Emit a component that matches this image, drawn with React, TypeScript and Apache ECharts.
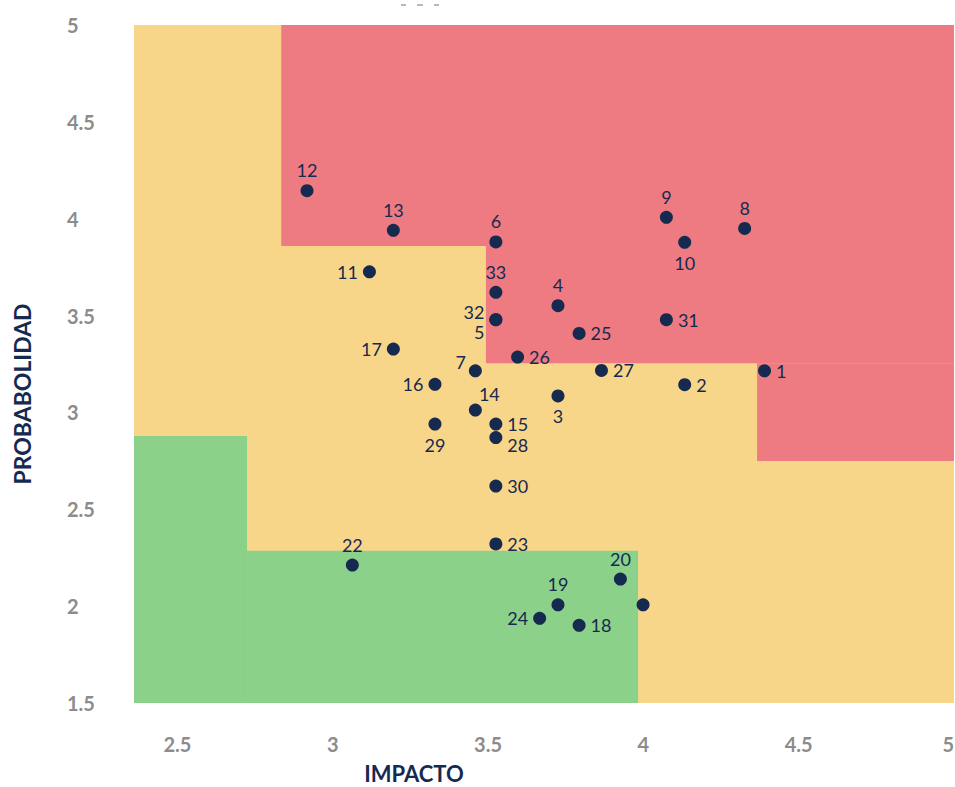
import React, { useEffect, useRef } from "react";
import * as echarts from "echarts";

// Risk points: id, impacto (x), probabilidad (y)
const ids = [
  "1", "2", "3", "4", "5", "6", "7", "8", "9", "10", "11", "12", "13", "14", "15", "16", "17",
  "18", "19", "20", "21", "22", "23", "24", "25", "26", "27", "28", "29", "30", "31", "32", "33",
];
const impacto = [
  4.39, 4.133, 3.725, 3.725, 3.525, 3.525, 3.459, 4.326, 4.074, 4.133, 3.118, 2.917, 3.195, 3.459,
  3.525, 3.329, 3.195, 3.793, 3.725, 3.926, 3.999, 3.063, 3.525, 3.666, 3.793, 3.595, 3.865, 3.525,
  3.329, 3.525, 4.074, 3.525, 3.525,
];
const probabilidad = [
  3.215, 3.143, 3.085, 3.551, 3.479, 3.88, 3.215, 3.95, 4.007, 3.878, 3.726, 4.145, 3.94, 3.012,
  2.94, 3.145, 3.327, 1.901, 2.007, 2.14, 2.007, 2.212, 2.321, 1.937, 3.408, 3.286, 3.217, 2.87,
  2.94, 2.62, 3.479, 3.479, 3.62,
];
const hiddenLabels = ["21"];

// Zone rectangles in data units: [xFrom, yFrom, xTo, yTo]
const redZone = [
  [2.834, 3.859, 5, 5],
  [3.493, 3.2535, 5, 3.859],
  [4.366, 2.749, 5, 3.2535],
];
const greenZone = [
  [2.36, 1.5, 2.724, 2.878],
  [2.724, 1.5, 3.983, 2.286],
];

const xMin = 2.36;
const xMax = 5;
const yMin = 1.5;
const yMax = 5;

// label placement (style)
const labelPlace: Record<string, { pos: string; off?: [number, number] }> = {
  "1": { pos: "right" },
  "2": { pos: "right" },
  "3": { pos: "bottom" },
  "4": { pos: "top" },
  "5": { pos: "left", off: [0, 12] },
  "6": { pos: "top" },
  "7": { pos: "left", off: [2, -9] },
  "8": { pos: "top" },
  "9": { pos: "top" },
  "10": { pos: "bottom" },
  "11": { pos: "left" },
  "12": { pos: "top" },
  "13": { pos: "top" },
  "14": { pos: "top", off: [14, 4] },
  "15": { pos: "right" },
  "16": { pos: "left" },
  "17": { pos: "left" },
  "18": { pos: "right" },
  "19": { pos: "top" },
  "20": { pos: "top" },
  "22": { pos: "top" },
  "23": { pos: "right" },
  "24": { pos: "left" },
  "25": { pos: "right" },
  "26": { pos: "right" },
  "27": { pos: "right" },
  "28": { pos: "right", off: [0, 7] },
  "29": { pos: "bottom" },
  "30": { pos: "right" },
  "31": { pos: "right" },
  "32": { pos: "left", off: [0, -8] },
  "33": { pos: "top" },
};

const NAVY = "#16294F";
const RED = "#EE7B82";
const YELLOW = "#F7D68A";
const GREEN = "#8BD18A";

export default function App() {
  const ref = useRef<HTMLDivElement>(null);

  useEffect(() => {
    if (!ref.current) return;
    const chart = echarts.init(ref.current, undefined, { renderer: "svg" });

    const zoneData = (zones: number[][], color: string) =>
      zones.map((z) => [
        { coord: [z[0], z[1]], itemStyle: { color, opacity: 1, borderWidth: 0 } },
        { coord: [z[2], z[3]] },
      ]);

    const points = ids.map((id, i) => {
      const pl = labelPlace[id] || { pos: "top" };
      return {
        name: id,
        value: [impacto[i], probabilidad[i]],
        label: {
          show: !hiddenLabels.includes(id),
          position: pl.pos,
          offset: pl.off || [0, 0],
        },
      };
    });

    chart.setOption({
      animation: false,
      grid: {
        left: 134,
        right: 1,
        top: 25,
        bottom: 84,
        show: true,
        backgroundColor: YELLOW,
        borderWidth: 0,
        containLabel: false,
        outerBoundsMode: "none",
      },
      xAxis: {
        type: "value",
        min: xMin,
        max: xMax,
        splitNumber: 5,
        axisLine: { show: false },
        axisTick: { show: false },
        splitLine: { show: false },
        axisLabel: {
          color: "#8C8C8C",
          fontWeight: "bold",
          fontSize: 20,
          fontFamily: "Lato, sans-serif",
          margin: 31,
          hideOverlap: false,
          alignMaxLabel: "right",
          formatter: (v: number) =>
            Math.abs(v * 2 - Math.round(v * 2)) < 1e-6 ? String(Math.round(v * 10) / 10) : "",
        },
      },
      yAxis: {
        type: "value",
        min: yMin,
        max: yMax,
        interval: 0.5,
        axisLine: { show: false },
        axisTick: { show: false },
        splitLine: { show: false },
        axisLabel: {
          color: "#8C8C8C",
          fontWeight: "bold",
          fontSize: 20,
          fontFamily: "Lato, sans-serif",
          align: "left",
          margin: 67,
        },
      },
      graphic: [
        {
          type: "text",
          x: 414,
          y: 773,
          style: {
            text: "IMPACTO",
            fill: NAVY,
            font: "bold 22px Lato, sans-serif",
            align: "center",
            verticalAlign: "middle",
          },
        },
        {
          type: "text",
          x: 22,
          y: 394,
          rotation: Math.PI / 2,
          style: {
            text: "PROBABOLIDAD",
            fill: NAVY,
            font: "bold 23px Lato, sans-serif",
            align: "center",
            verticalAlign: "middle",
          },
        },
        { type: "line", shape: { x1: 401, y1: 5, x2: 406, y2: 5 }, style: { stroke: "#9AA0AE", lineWidth: 1.5 } },
        { type: "line", shape: { x1: 417, y1: 5, x2: 423, y2: 5 }, style: { stroke: "#9AA0AE", lineWidth: 1.5 } },
        { type: "line", shape: { x1: 434, y1: 5, x2: 439, y2: 5 }, style: { stroke: "#9AA0AE", lineWidth: 1.5 } },
      ],
      series: [
        {
          type: "scatter",
          data: [],
          z: 1,
          silent: true,
          markArea: {
            silent: true,
            label: { show: false },
            data: [...zoneData(redZone, RED), ...zoneData(greenZone, GREEN)],
          },
        },
        {
          type: "scatter",
          z: 5,
          symbol: "circle",
          symbolSize: 13,
          itemStyle: { color: NAVY, opacity: 1 },
          label: {
            show: true,
            formatter: "{b}",
            color: NAVY,
            fontSize: 18,
            fontFamily: "Lato, sans-serif",
            distance: 5,
          },
          data: points,
        },
      ],
    });

    return () => chart.dispose();
  }, []);

  return (
    <div
      ref={ref}
      style={{ position: "fixed", left: 0, top: 0, width: 955, height: 787, background: "#fff" }}
    />
  );
}
